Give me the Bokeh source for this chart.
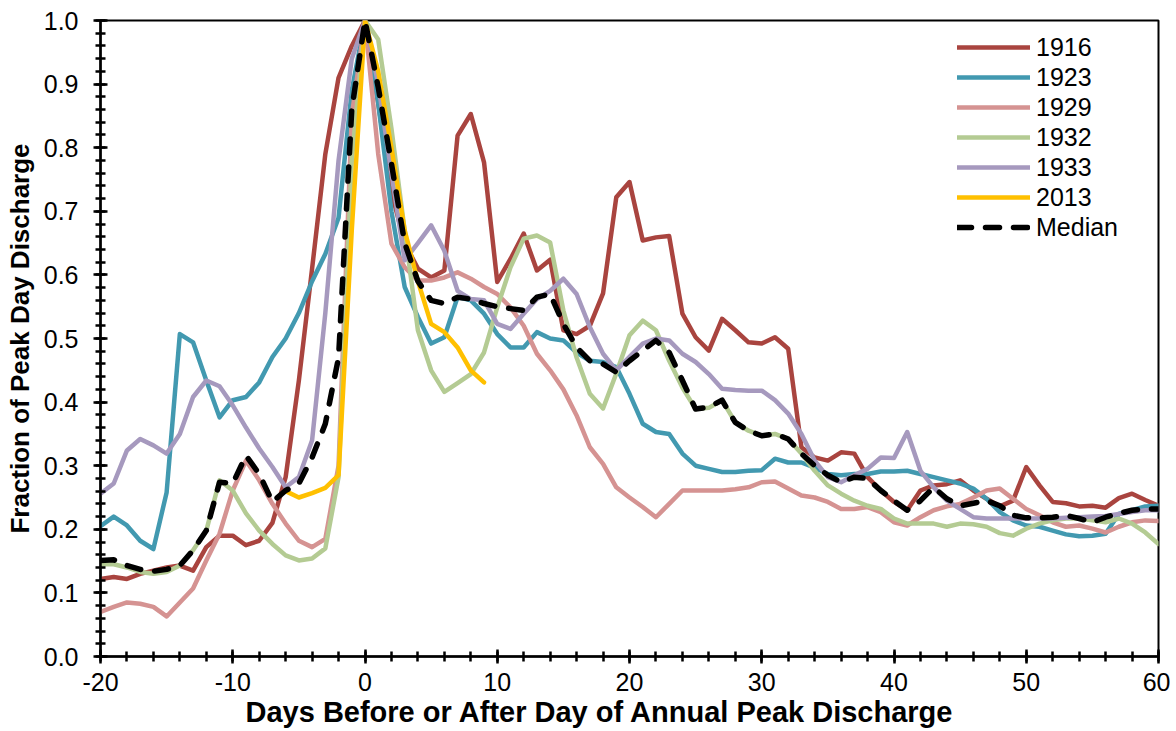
from bokeh.plotting import figure
from bokeh.models import Range1d, FixedTicker, PrintfTickFormatter, Legend, LegendItem, Title
from bokeh.embed import file_html
from bokeh.resources import INLINE

days = [-20, -19, -18, -17, -16, -15, -14, -13, -12, -11, -10, -9, -8, -7, -6, -5, -4, -3, -2, -1,
        0, 1, 2, 3, 4, 5, 6, 7, 8, 9, 10, 11, 12, 13, 14, 15, 16, 17, 18, 19, 20,
        21, 22, 23, 24, 25, 26, 27, 28, 29, 30, 31, 32, 33, 34, 35, 36, 37, 38, 39, 40,
        41, 42, 43, 44, 45, 46, 47, 48, 49, 50, 51, 52, 53, 54, 55, 56, 57, 58, 59, 60]

y1916 = [0.122, 0.125, 0.122, 0.130, 0.135, 0.140, 0.143, 0.135, 0.172, 0.190,
         0.190, 0.175, 0.182, 0.210, 0.282, 0.434, 0.610, 0.790, 0.910, 0.960,
         1.000, 0.870, 0.730, 0.650, 0.610, 0.596, 0.607, 0.819, 0.853, 0.777,
         0.589, 0.625, 0.665, 0.607, 0.624, 0.513, 0.507, 0.520, 0.571, 0.722,
         0.746, 0.654, 0.659, 0.661, 0.539, 0.502, 0.481, 0.531, 0.513, 0.494,
         0.492, 0.502, 0.484, 0.329, 0.313, 0.308, 0.321, 0.319, 0.282, 0.261,
         0.243, 0.230, 0.261, 0.269, 0.271, 0.277, 0.261, 0.248, 0.236, 0.245,
         0.298, 0.269, 0.243, 0.241, 0.236, 0.237, 0.234, 0.249, 0.256, 0.246,
         0.237]

y1923 = [0.205, 0.220, 0.206, 0.182, 0.169, 0.258, 0.507, 0.494, 0.434, 0.376,
         0.403, 0.408, 0.431, 0.471, 0.500, 0.540, 0.590, 0.633, 0.690, 0.890,
         1.000, 0.870, 0.700, 0.581, 0.534, 0.492, 0.502, 0.565, 0.560, 0.539,
         0.507, 0.486, 0.486, 0.510, 0.500, 0.497, 0.478, 0.465, 0.463, 0.455,
         0.413, 0.366, 0.353, 0.350, 0.319, 0.300, 0.295, 0.290, 0.290, 0.292,
         0.293, 0.311, 0.305, 0.305, 0.297, 0.287, 0.285, 0.287, 0.287, 0.291,
         0.291, 0.292, 0.287, 0.282, 0.277, 0.272, 0.264, 0.248, 0.227, 0.214,
         0.206, 0.204, 0.198, 0.192, 0.189, 0.190, 0.193, 0.224, 0.230, 0.236,
         0.237]

y1929 = [0.070, 0.078, 0.085, 0.083, 0.078, 0.063, 0.085, 0.107, 0.151, 0.193,
         0.261, 0.308, 0.277, 0.240, 0.209, 0.182, 0.172, 0.185, 0.300, 0.850,
         1.000, 0.790, 0.649, 0.612, 0.591, 0.591, 0.596, 0.604, 0.594, 0.581,
         0.570, 0.549, 0.520, 0.476, 0.450, 0.420, 0.379, 0.329, 0.303, 0.266,
         0.250, 0.235, 0.219, 0.240, 0.261, 0.261, 0.261, 0.261, 0.263, 0.266,
         0.274, 0.275, 0.264, 0.253, 0.250, 0.243, 0.232, 0.232, 0.235, 0.227,
         0.211, 0.206, 0.219, 0.230, 0.236, 0.240, 0.250, 0.261, 0.264, 0.248,
         0.232, 0.222, 0.211, 0.204, 0.206, 0.201, 0.195, 0.204, 0.211, 0.214,
         0.213]

y1932 = [0.145, 0.145, 0.140, 0.133, 0.130, 0.133, 0.143, 0.167, 0.198, 0.277,
         0.261, 0.225, 0.198, 0.177, 0.159, 0.151, 0.154, 0.170, 0.282, 0.780,
         1.000, 0.970, 0.830, 0.670, 0.513, 0.450, 0.416, 0.430, 0.444, 0.478,
         0.549, 0.612, 0.657, 0.662, 0.651, 0.544, 0.470, 0.413, 0.390, 0.445,
         0.505, 0.528, 0.513, 0.465, 0.423, 0.389, 0.391, 0.403, 0.368, 0.355,
         0.347, 0.350, 0.342, 0.319, 0.292, 0.269, 0.256, 0.245, 0.237, 0.232,
         0.217, 0.209, 0.209, 0.209, 0.204, 0.209, 0.208, 0.204, 0.194, 0.190,
         0.201, 0.209, 0.214, 0.217, 0.217, 0.214, 0.211, 0.217, 0.209, 0.195,
         0.177]

y1933 = [0.256, 0.272, 0.324, 0.342, 0.332, 0.319, 0.350, 0.408, 0.434, 0.425,
         0.395, 0.360, 0.327, 0.298, 0.266, 0.282, 0.340, 0.540, 0.780, 0.940,
         1.000, 0.900, 0.760, 0.623, 0.650, 0.678, 0.638, 0.575, 0.562, 0.560,
         0.523, 0.515, 0.539, 0.562, 0.575, 0.594, 0.570, 0.518, 0.476, 0.450,
         0.471, 0.492, 0.500, 0.497, 0.476, 0.463, 0.444, 0.421, 0.419, 0.418,
         0.418, 0.403, 0.382, 0.350, 0.308, 0.282, 0.274, 0.285, 0.295, 0.313,
         0.312, 0.353, 0.292, 0.266, 0.245, 0.232, 0.219, 0.217, 0.217, 0.217,
         0.217, 0.217, 0.217, 0.218, 0.219, 0.220, 0.221, 0.224, 0.227, 0.230,
         0.230]

days_2013 = [-6, -5, -4, -3, -2, -1, 0, 1, 2, 3, 4, 5, 6, 7, 8, 9]
y2013 = [0.260, 0.250, 0.257, 0.265, 0.285, 0.670, 1.000, 0.920, 0.800, 0.670,
         0.590, 0.523, 0.510, 0.486, 0.450, 0.431]

median = [0.151, 0.152, 0.143, 0.137, 0.134, 0.137, 0.143, 0.167, 0.198, 0.274,
          0.272, 0.316, 0.287, 0.243, 0.261, 0.272, 0.313, 0.366, 0.470, 0.860,
          1.000, 0.895, 0.775, 0.650, 0.590, 0.560, 0.555, 0.565, 0.562, 0.555,
          0.550, 0.547, 0.544, 0.565, 0.570, 0.523, 0.486, 0.465, 0.460, 0.447,
          0.465, 0.481, 0.497, 0.478, 0.434, 0.389, 0.392, 0.403, 0.368, 0.355,
          0.347, 0.350, 0.342, 0.319, 0.300, 0.285, 0.274, 0.282, 0.280, 0.261,
          0.245, 0.230, 0.245, 0.266, 0.248, 0.237, 0.241, 0.245, 0.237, 0.222,
          0.218, 0.218, 0.219, 0.222, 0.217, 0.211, 0.219, 0.225, 0.230, 0.232,
          0.232]

x_ticks = [-20, -10, 0, 10, 20, 30, 40, 50, 60]
x_minor = [-20, -18, -16, -14, -12, -10, -8, -6, -4, -2, 0, 2, 4, 6, 8, 10, 12, 14, 16, 18, 20,
           22, 24, 26, 28, 30, 32, 34, 36, 38, 40, 42, 44, 46, 48, 50, 52, 54, 56, 58, 60]
y_ticks = [0.0, 0.1, 0.2, 0.3, 0.4, 0.5, 0.6, 0.7, 0.8, 0.9, 1.0]
y_minor = [0.0, 0.02, 0.04, 0.06, 0.08, 0.1, 0.12, 0.14, 0.16, 0.18, 0.2, 0.22, 0.24, 0.26,
           0.28, 0.3, 0.32, 0.34, 0.36, 0.38, 0.4, 0.42, 0.44, 0.46, 0.48, 0.5, 0.52, 0.54,
           0.56, 0.58, 0.6, 0.62, 0.64, 0.66, 0.68, 0.7, 0.72, 0.74, 0.76, 0.78, 0.8, 0.82,
           0.84, 0.86, 0.88, 0.9, 0.92, 0.94, 0.96, 0.98, 1.0]

x_title = "Days Before or After Day of Annual Peak Discharge"
y_title = "Fraction of Peak Day Discharge"

FONT = "Liberation Sans"

p = figure(width=1170, height=731, output_backend="svg", toolbar_location=None,
           x_range=Range1d(-20, 60), y_range=Range1d(0, 1.0),
           min_border_left=100, min_border_right=12, min_border_top=20, min_border_bottom=75)
p.background_fill_color = "white"
p.border_fill_color = "white"
p.outline_line_color = "black"
p.outline_line_width = 2
p.xgrid.visible = False
p.ygrid.visible = False

series = [
    ("1916", days, y1916, "#A9443F"),
    ("1923", days, y1923, "#4299B0"),
    ("1929", days, y1929, "#D59392"),
    ("1932", days, y1932, "#B4CB93"),
    ("1933", days, y1933, "#A699BE"),
    ("2013", days_2013, y2013, "#FFC000"),
]
items = []
for name, xs, ys, col in series:
    r = p.line(xs, ys, line_color=col, line_width=4.5, line_join="round", line_cap="round")
    items.append(LegendItem(label=name, renderers=[r]))
rm = p.line(days, median, line_color="black", line_width=5.5, line_dash="14 14",
            line_join="round", line_cap="round")
items.append(LegendItem(label="Median", renderers=[rm]))

for ax in (p.xaxis[0], p.yaxis[0]):
    ax.axis_line_color = "black"
    ax.axis_line_width = 2.5
    ax.major_tick_line_color = "black"
    ax.major_tick_line_width = 2.5
    ax.minor_tick_line_color = "black"
    ax.minor_tick_line_width = 2.5
    ax.major_tick_in = 7
    ax.major_tick_out = 7
    ax.minor_tick_in = 5
    ax.minor_tick_out = 5
    ax.major_label_text_font = FONT
    ax.major_label_text_font_size = "25px"
    ax.major_label_text_color = "black"
    ax.axis_label_text_font = FONT
    ax.axis_label_text_font_style = "bold"
    ax.axis_label_text_color = "black"

p.xaxis.ticker = FixedTicker(ticks=x_ticks, minor_ticks=x_minor)
p.yaxis.ticker = FixedTicker(ticks=y_ticks, minor_ticks=y_minor)
p.xaxis.formatter = PrintfTickFormatter(format="%d")
p.yaxis.formatter = PrintfTickFormatter(format="%.1f")
p.yaxis.axis_label = y_title
p.yaxis.axis_label_text_font_size = "26px"
p.xaxis.major_label_standoff = 9
p.yaxis.major_label_standoff = 15
p.yaxis.axis_label_standoff = 6

# x-axis title: sits under the tick labels, centred on the whole chart as in the original
xt = Title(text=x_title, align="left", offset=145, standoff=0,
           text_font=FONT, text_font_style="bold", text_font_size="29px",
           text_color="black", text_line_height=1.0)
p.add_layout(xt, "below")

legend = Legend(items=items, location=(857, 414), padding=0, spacing=0,
                glyph_width=73, glyph_height=30, label_height=30, label_standoff=6,
                label_text_font=FONT, label_text_font_size="25px", label_text_color="black",
                border_line_alpha=0, background_fill_alpha=0)
p.add_layout(legend)

open("out.html", "w").write(file_html(p, INLINE))
